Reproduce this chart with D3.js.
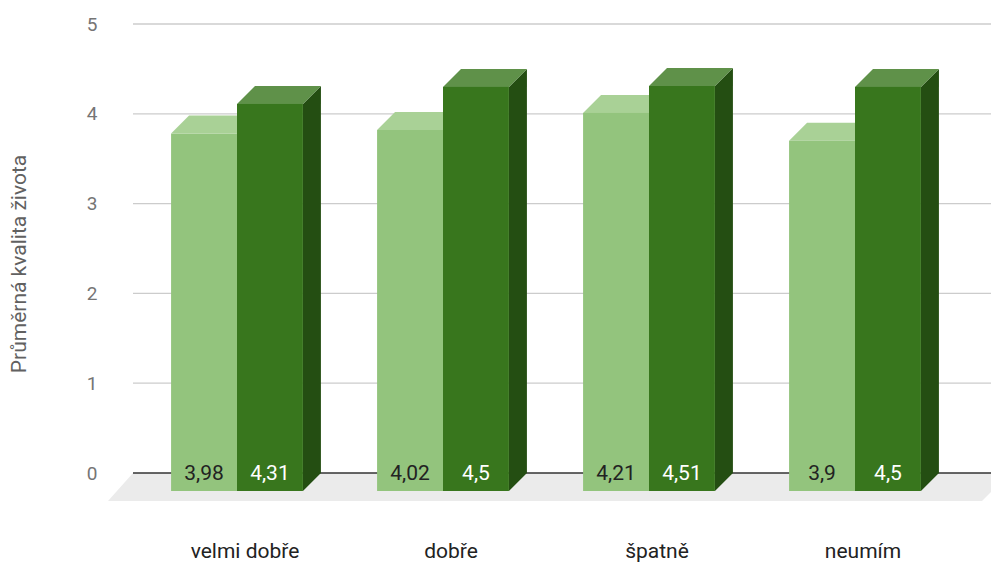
<!DOCTYPE html>
<html><head><meta charset="utf-8">
<script src="https://cdn.jsdelivr.net/npm/d3@7"></script>
<style>body{margin:0;background:#fff}svg{display:block;font-family:Roboto,sans-serif}</style>
</head><body>
<script>
const categories = ["velmi dobře", "dobře", "špatně", "neumím"];
const seriesA = [3.98, 4.02, 4.21, 3.9];
const seriesB = [4.31, 4.5, 4.51, 4.5];
const valueLabelsA = ["3,98", "4,02", "4,21", "3,9"];
const valueLabelsB = ["4,31", "4,5", "4,51", "4,5"];
const yTicks = [0, 1, 2, 3, 4, 5];
const yTitle = "Průměrná kvalita života";

const W = 991, H = 564;
const dx = 18, dy = 18;
const svg = d3.select("body").append("svg").attr("width", W).attr("height", H);

const y = d3.scaleLinear().domain([0, 5]).range([473, 24]);
const x = d3.scaleBand().domain(categories).range([134, 958]).paddingInner(0.36).paddingOuter(0.18);
const xs = d3.scaleBand().domain([0, 1]).range([0, x.bandwidth()]);

// floor
svg.append("polygon")
  .attr("points", [[133, 473], [1010, 473], [982, 501], [108, 501]].map(p => p.join(",")).join(" "))
  .attr("fill", "#ebebeb");

// grid
svg.append("g").selectAll("line").data(yTicks.filter(t => t > 0)).join("line")
  .attr("x1", 133).attr("x2", W).attr("y1", d => y(d)).attr("y2", d => y(d))
  .attr("stroke", "#cccccc").attr("stroke-width", 1.3);
svg.append("line").attr("x1", 133).attr("x2", W).attr("y1", y(0)).attr("y2", y(0))
  .attr("stroke", "#333").attr("stroke-width", 1.3);

// y tick labels
svg.append("g").selectAll("text").data(yTicks).join("text")
  .attr("x", 92).attr("y", d => y(d)).attr("dy", "0.35em").attr("text-anchor", "middle")
  .attr("fill", "#757575").attr("font-size", 19).text(d => d);

// y title
svg.append("text").attr("transform", "translate(26,264) rotate(-90)")
  .attr("text-anchor", "middle").attr("fill", "#616161").attr("font-size", 21).text(yTitle);

const series = [
  {vals: seriesA, labels: valueLabelsA, front: "#93c47d", top: "#a9d196", side: "#6f9a5d", text: "#222"},
  {vals: seriesB, labels: valueLabelsB, front: "#38761d", top: "#5f9149", side: "#244e12", text: "#fff"}
];

const g = svg.append("g");
categories.forEach((c, i) => {
  series.forEach((s, j) => {
    const v = s.vals[i];
    const x0 = x(c) + xs(j), w = xs.bandwidth();
    const yt = y(v) + dy, yb = y(0) + dy;
    g.append("polygon").attr("points", [[x0 + w, yt], [x0 + w + dx, yt - dy], [x0 + w + dx, yb - dy], [x0 + w, yb]].map(p => p.join(",")).join(" "))
      .attr("fill", s.side);
    g.append("polygon").attr("points", [[x0, yt], [x0 + dx, yt - dy], [x0 + w + dx, yt - dy], [x0 + w, yt]].map(p => p.join(",")).join(" "))
      .attr("fill", s.top);
    g.append("rect").attr("x", x0).attr("y", yt).attr("width", w).attr("height", yb - yt).attr("fill", s.front);
    g.append("text").attr("x", x0 + w / 2).attr("y", 480).attr("text-anchor", "middle")
      .attr("font-size", 21).attr("fill", s.text).text(s.labels[i]);
  });
});

// category labels
svg.append("g").selectAll("text").data(categories).join("text")
  .attr("x", d => x(d) + x.bandwidth() / 2 + 8).attr("y", 558).attr("text-anchor", "middle")
  .attr("fill", "#222").attr("font-size", 21).text(d => d);
</script>
</body></html>
